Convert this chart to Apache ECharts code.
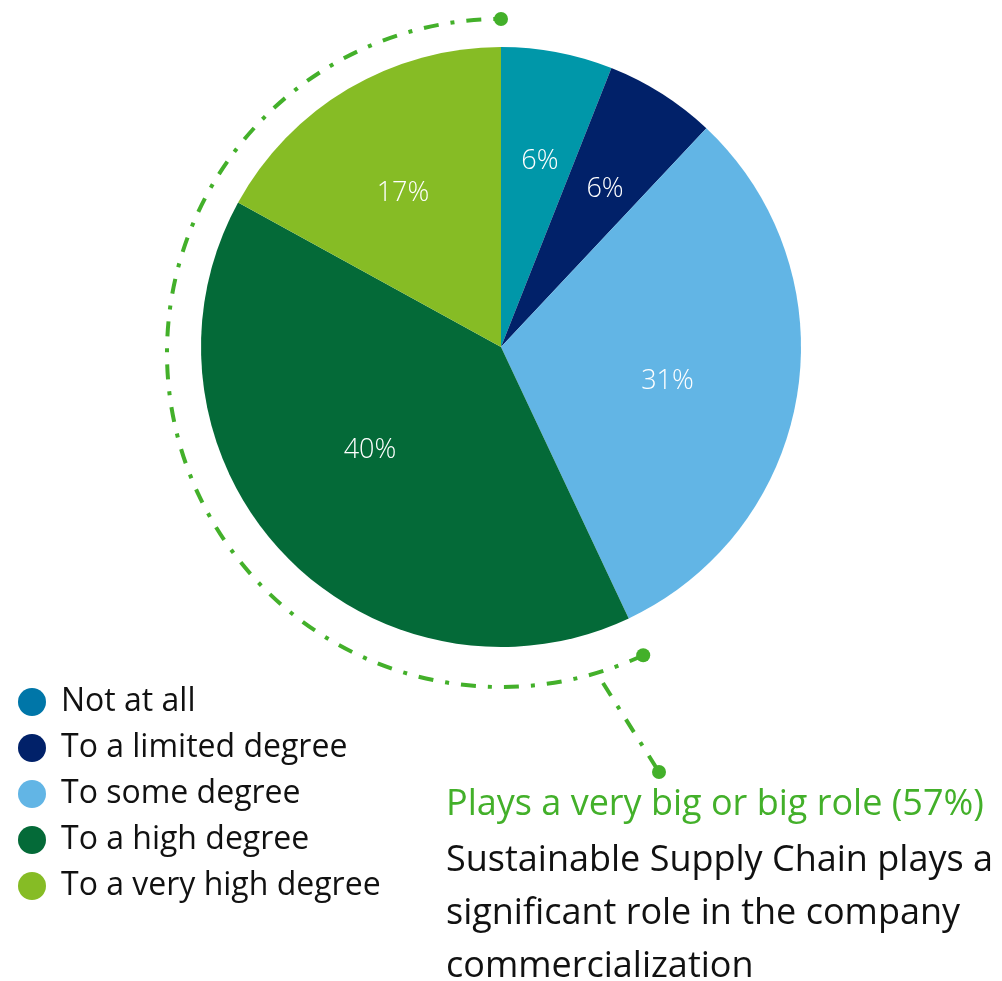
<!DOCTYPE html>
<html>
<head>
<meta charset="utf-8">
<style>
  html, body { margin: 0; padding: 0; background: #ffffff; }
  #chart { width: 1002px; height: 981px; }
</style>
<script src="https://cdn.jsdelivr.net/npm/echarts@6/dist/echarts.min.js"></script>
</head>
<body>
<div id="chart"></div>
<script>
// Survey answers: how far sustainable supply chain matters for commercialization
const categories = ['Not at all', 'To a limited degree', 'To some degree', 'To a high degree', 'To a very high degree'];
const shares = [6, 6, 31, 40, 17];
const sliceColors = ['#0097A9', '#012169', '#62B5E5', '#046A38', '#86BC25'];
const legendIconColors = ['#0076A8', '#012169', '#62B5E5', '#046A38', '#86BC25'];
const bigRoleCategories = ['To a high degree', 'To a very high degree'];
const noteLines = ['Sustainable Supply Chain plays a', 'significant role in the company', 'commercialization'];

const FONT = '"Open Sans", "Noto Sans", sans-serif';
const GREEN = '#43B02A';

// pie geometry
const CX = 501, CY = 347, R = 300;
// percentage labels: distance from the pie centre and a small turn (degrees) off the slice middle
const labelRadius = [190, 189, 170, 167, 182];
const labelTurn = [1.0, 1.0, 2.7, 4.9, -2.0];

// bracket arc spanning the "high" + "very high" share
const total = shares.reduce((a, b) => a + b, 0);
const bigRoleShare = categories.reduce((s, c, i) => s + (bigRoleCategories.includes(c) ? shares[i] : 0), 0);
const ARC = { cx: 501, cy: 353, r: 334 };
const arcEnd = -Math.PI / 2;
const arcStart = arcEnd - (bigRoleShare / total) * Math.PI * 2;
const dash = [15, 12, 4, 12];

const chart = echarts.init(document.getElementById('chart'), null, { renderer: 'canvas' });

const option = {
  backgroundColor: '#ffffff',
  animation: false,
  legend: {
    orient: 'vertical',
    left: 13,
    top: 681,
    icon: 'circle',
    itemWidth: 28,
    itemHeight: 28,
    itemGap: 14,
    selectedMode: false,
    textStyle: {
      fontFamily: FONT,
      fontWeight: 400,
      fontSize: 32,
      lineHeight: 31,
      color: '#111111',
      padding: [0, 0, 0, 10]
    },
    data: categories.map((name, i) => ({ name, itemStyle: { color: legendIconColors[i] } }))
  },
  series: [{
    type: 'pie',
    center: [CX, CY],
    radius: [0, R],
    startAngle: 90,
    clockwise: true,
    silent: true,
    itemStyle: { borderWidth: 0 },
    label: {
      show: true,
      position: 'inside',
      formatter: '{c}%',
      color: '#ffffff',
      fontFamily: FONT,
      fontWeight: 300,
      fontSize: 27
    },
    labelLine: { show: false },
    labelLayout: function (p) {
      const r = p.labelRect;
      const lx = r.x + r.width / 2, ly = r.y + r.height / 2;
      const ang = Math.atan2(ly - CY, lx - CX) + labelTurn[p.dataIndex] * Math.PI / 180;
      const rad = labelRadius[p.dataIndex];
      return { dx: CX + rad * Math.cos(ang) - lx, dy: CY + rad * Math.sin(ang) - ly };
    },
    data: categories.map((name, i) => ({ name, value: shares[i], itemStyle: { color: sliceColors[i] } }))
  }],
  graphic: [
    {
      type: 'arc',
      shape: { cx: ARC.cx, cy: ARC.cy, r: ARC.r, startAngle: arcStart, endAngle: arcEnd, clockwise: true },
      style: { stroke: GREEN, lineWidth: 4, lineDash: dash, fill: null }
    },
    {
      type: 'circle',
      shape: { cx: ARC.cx + ARC.r * Math.cos(arcEnd), cy: ARC.cy + ARC.r * Math.sin(arcEnd), r: 7 },
      style: { fill: GREEN }
    },
    {
      type: 'circle',
      shape: { cx: ARC.cx + ARC.r * Math.cos(arcStart), cy: ARC.cy + ARC.r * Math.sin(arcStart), r: 7 },
      style: { fill: GREEN }
    },
    {
      type: 'polyline',
      shape: { points: [[603, 683], [659, 772]] },
      style: { stroke: GREEN, lineWidth: 4, lineDash: dash, fill: null }
    },
    {
      type: 'circle',
      shape: { cx: 659, cy: 772, r: 7 },
      style: { fill: GREEN }
    },
    {
      type: 'text',
      left: 446,
      top: 787,
      style: {
        text: 'Plays a very big or big role (' + bigRoleShare + '%)',
        fill: GREEN,
        font: '400 36px ' + FONT
      }
    },
    {
      type: 'text',
      left: 446,
      top: 834,
      style: {
        text: noteLines.join('\n'),
        fill: '#111111',
        font: '400 36px ' + FONT,
        lineHeight: 53
      }
    }
  ]
};

chart.setOption(option);
</script>
</body>
</html>
